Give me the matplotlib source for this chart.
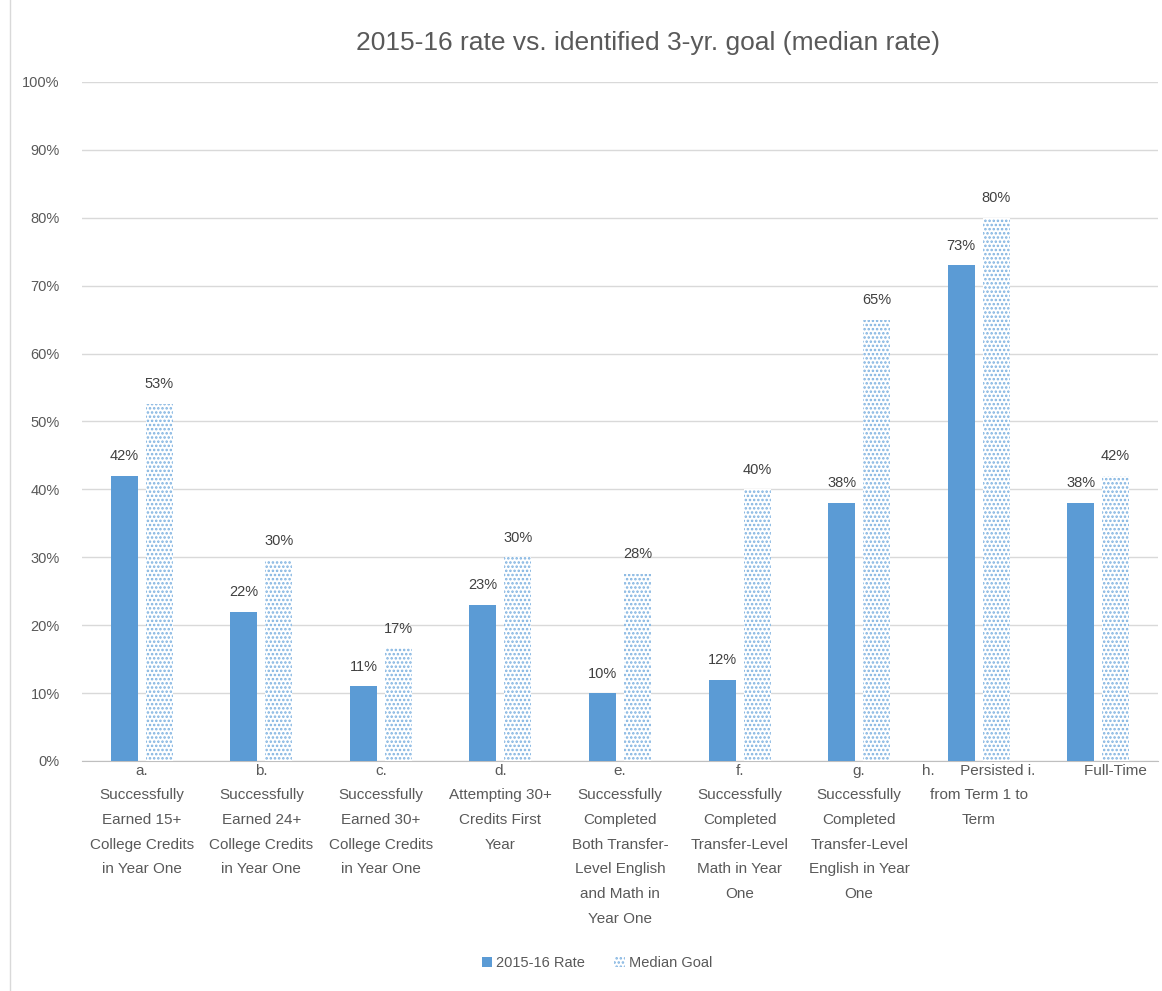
import numpy as np
import matplotlib.pyplot as plt
from matplotlib.lines import Line2D
from matplotlib.patches import Patch

plt.rcParams['font.family'] = ['Liberation Sans', 'DejaVu Sans']
plt.rcParams['hatch.linewidth'] = 1.2

categories = [
    "a.\nSuccessfully\nEarned 15+\nCollege Credits\nin Year One",
    "b.\nSuccessfully\nEarned 24+\nCollege Credits\nin Year One",
    "c.\nSuccessfully\nEarned 30+\nCollege Credits\nin Year One",
    "d.\nAttempting 30+\nCredits First\nYear",
    "e.\nSuccessfully\nCompleted\nBoth Transfer-\nLevel English\nand Math in\nYear One",
    "f.\nSuccessfully\nCompleted\nTransfer-Level\nMath in Year\nOne",
    "g.\nSuccessfully\nCompleted\nTransfer-Level\nEnglish in Year\nOne",
    "h.      Persisted i.\nfrom Term 1 to\nTerm",
    "        Full-Time",
]
rate_2015_16 = [42, 22, 11, 23, 10, 12, 38, 73, 38]
median_goal = [52.6, 29.6, 16.6, 30, 27.6, 40, 65, 80, 42]

blue = '#5B9BD5'
text_col = '#595959'

fig = plt.figure(figsize=(11.62, 9.91), dpi=100)
ax = fig.add_axes([82 / 1162, 1 - 761 / 991, (1158 - 82) / 1162, (761 - 82) / 991])

x = np.arange(len(categories))
w = 0.226
off = 0.146
b1 = ax.bar(x - off, rate_2015_16, w, color=blue, zorder=3)
b2 = ax.bar(x + off, median_goal, w, color='white', edgecolor='#7FB2E0',
            hatch='....', linewidth=0, zorder=3)

for bars, vals in ((b1, rate_2015_16), (b2, median_goal)):
    for r, v in zip(bars, vals):
        ax.annotate(f"{v:.0f}%", (r.get_x() + r.get_width() / 2, v),
                    xytext=(0, 9), textcoords='offset points', ha='center',
                    va='bottom', fontsize=10.5, color='#404040')

ax.set_xlim(-0.5, len(categories) - 0.5)
ax.set_ylim(0, 100)
ax.set_yticks(np.arange(0, 101, 10))
ax.set_yticklabels([f"{v}%" for v in range(0, 101, 10)], fontsize=10.5, color=text_col)
ax.set_xticks(x)
ax.set_xticklabels(categories, fontsize=11, color=text_col, linespacing=1.97, va='top')
ax.tick_params(axis='x', length=0, pad=2)
ax.tick_params(axis='y', length=0, pad=16)
ax.grid(axis='y', color='#D9D9D9', linewidth=1, zorder=0)
for s in ['top', 'right', 'left']:
    ax.spines[s].set_visible(False)
ax.spines['bottom'].set_color('#BFBFBF')

fig.text(648 / 1162, 1 - 43 / 991, "2015-16 rate vs. identified 3-yr. goal (median rate)",
         ha='center', va='center', fontsize=19, color=text_col)

handles = [Patch(facecolor=blue, edgecolor='none'),
           Patch(facecolor='white', edgecolor='#7FB2E0', hatch='....', linewidth=0)]
fig.legend(handles, ['2015-16 Rate', 'Median Goal'], loc='center',
           bbox_to_anchor=(597 / 1162, 1 - 963 / 991), ncol=2, frameon=False,
           fontsize=10.5, labelcolor=text_col, handlelength=0.7, handleheight=0.7,
           columnspacing=2.0, handletextpad=0.3)

# left border line of the screenshot
fig.add_artist(Line2D([10 / 1162, 10 / 1162], [0, 1], color='#D9D9D9', linewidth=1))

fig.savefig('out.png', dpi=100)
